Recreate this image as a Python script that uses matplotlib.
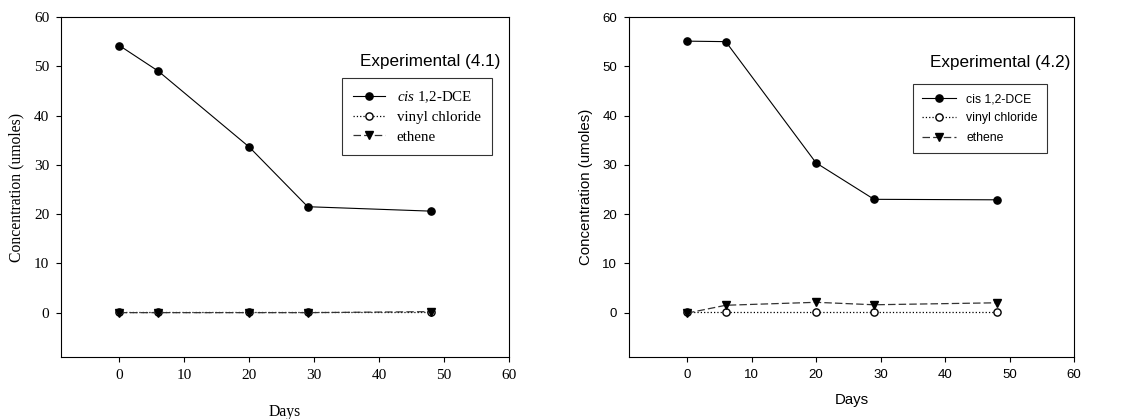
import matplotlib.pyplot as plt

plt.rcParams["mathtext.fontset"] = "custom"
plt.rcParams["mathtext.it"] = "Liberation Serif:italic"
plt.rcParams["mathtext.rm"] = "Liberation Serif"

days = [0, 6, 20, 29, 48]

# Experimental (4.1)
dce_41 = [54.2, 49.0, 33.6, 21.5, 20.6]
vc_41 = [0.1, 0.1, 0.1, 0.1, 0.1]
eth_41 = [0.0, 0.0, 0.0, 0.0, 0.2]

# Experimental (4.2)
dce_42 = [55.1, 55.0, 30.4, 23.0, 22.9]
vc_42 = [0.1, 0.1, 0.1, 0.1, 0.1]
eth_42 = [-0.1, 1.5, 2.1, 1.6, 2.0]

x_ticks = [0, 10, 20, 30, 40, 50, 60]
y_ticks = [0, 10, 20, 30, 40, 50, 60]


def draw_panel(ax, dce, vc, eth, title, font, dce_label, tick_size, label_size,
               leg_size, leg_anchor, handle_len, leg_spacing, title_xy,
               xlabel_pad, ylabel_pad):
    ax.plot(days, dce, "-", color="black", lw=0.8, marker="o", ms=5.2,
            mfc="black", mec="black", label=dce_label)
    ax.plot(days, vc, ":", color="black", lw=0.9, marker="o", ms=5.2,
            mfc="white", mec="black", label="vinyl chloride")
    ax.plot(days, eth, "--", color="#333333", lw=0.9, dashes=(6, 2.5), marker="v",
            ms=5.2, mfc="black", mec="black", label="ethene")
    ax.set_xlim(-9, 60)
    ax.set_ylim(-9, 60)
    ax.set_xticks(x_ticks)
    ax.set_yticks(y_ticks)
    ax.set_xticklabels([str(t) for t in x_ticks], family=font, fontsize=tick_size)
    ax.set_yticklabels([str(t) for t in y_ticks], family=font, fontsize=tick_size)
    ax.tick_params(direction="out", length=3.5, width=0.8, pad=5)
    for s in ax.spines.values():
        s.set_linewidth(0.8)
    ax.set_xlabel("Days", family=font, fontsize=label_size, labelpad=xlabel_pad)
    ax.set_ylabel("Concentration (umoles)", family=font, fontsize=label_size,
                  labelpad=ylabel_pad)
    ax.text(title_xy[0], title_xy[1], title, transform=ax.transAxes, ha="right",
            va="center", family="Liberation Sans", fontsize=12.3)
    leg = ax.legend(loc="upper right", bbox_to_anchor=leg_anchor, borderaxespad=0,
                    frameon=True, fancybox=False, edgecolor="black",
                    handlelength=handle_len, handletextpad=0.8, borderpad=0.75,
                    labelspacing=leg_spacing, prop={"family": font, "size": leg_size})
    leg.get_frame().set_linewidth(0.8)


fig = plt.figure(figsize=(11.23, 4.19), dpi=100)
ax1 = fig.add_axes([61 / 1123, 62 / 419, 448 / 1123, 340 / 419])
ax2 = fig.add_axes([629 / 1123, 62 / 419, 445 / 1123, 340 / 419])

draw_panel(ax1, dce_41, vc_41, eth_41, "Experimental (4.1)", "Liberation Serif",
           r"$\mathit{cis}$ 1,2-DCE", 11, 11.3, 10.8, (0.962, 0.821), 2.1, 0.4,
           (0.98, 0.868), 16, 7)
draw_panel(ax2, dce_42, vc_42, eth_42, "Experimental (4.2)", "Liberation Sans",
           "cis 1,2-DCE", 9.5, 10.8, 8.8, (0.939, 0.803), 2.8, 0.6,
           (0.991, 0.866), 9, 7)

fig.savefig("out.png", dpi=100)
